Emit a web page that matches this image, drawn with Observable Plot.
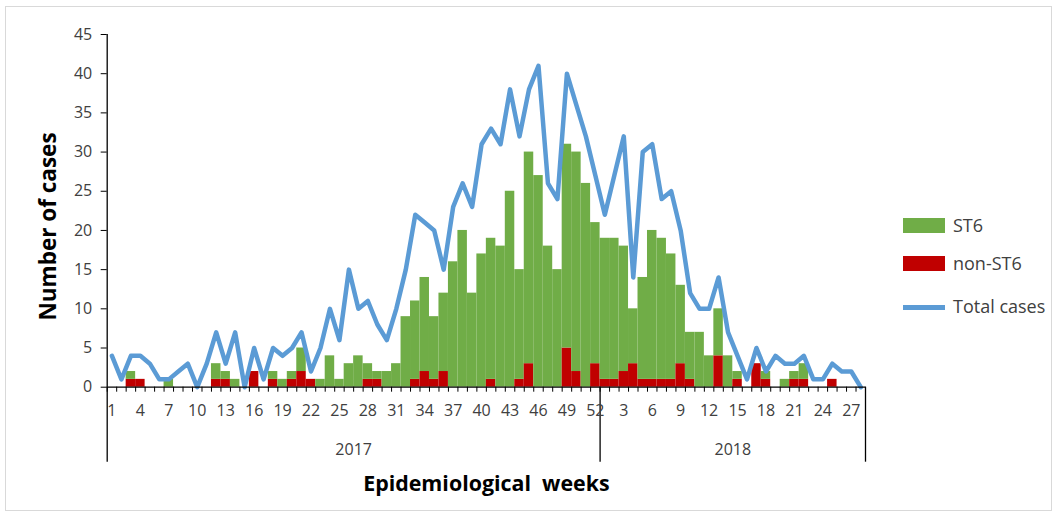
<!DOCTYPE html>
<html>
<head>
<meta charset="utf-8">
<script src="https://cdn.jsdelivr.net/npm/d3@7"></script>
<script src="https://cdn.jsdelivr.net/npm/@observablehq/plot@0.6"></script>
<style>
  html, body { margin: 0; padding: 0; background: #fff; }
  #wrap { position: relative; width: 1059px; height: 518px; font-family: "Open Sans", Lato, sans-serif; }
  #frame { position: absolute; left: 5px; top: 6px; width: 1047px; height: 505px; border: 1px solid #d9d9d9; box-sizing: border-box; }
  #chart { position: absolute; left: 0; top: 0; }
  .leg { position: absolute; left: 903px; font-size: 18px; color: #404040; }
  .sw { position: absolute; width: 42px; height: 15px; }
  .lbl { position: absolute; left: 50px; white-space: nowrap; line-height: 20px; }
</style>
</head>
<body>
<div id="wrap">
  <div id="frame"></div>
  <div id="chart"></div>
  <div class="leg" style="top:216px"><div class="sw" style="top:2px;background:#70AD47"></div><div class="lbl" style="top:-1px">ST6</div></div>
  <div class="leg" style="top:254px"><div class="sw" style="top:2px;background:#C00000"></div><div class="lbl" style="top:-1px">non-ST6</div></div>
  <div class="leg" style="top:297px"><div class="sw" style="top:8px;height:4.5px;background:#5B9BD5"></div><div class="lbl" style="top:-1px">Total cases</div></div>
</div>
<script>
// Categories: epidemiological weeks
const weeks2017 = [1,2,3,4,5,6,7,8,9,10,11,12,13,14,15,16,17,18,19,20,21,22,23,24,25,26,27,28,29,30,31,32,33,34,35,36,37,38,39,40,41,42,43,44,45,46,47,48,49,50,51,52];
const weeks2018 = [1,2,3,4,5,6,7,8,9,10,11,12,13,14,15,16,17,18,19,20,21,22,23,24,25,26,27,28];
const years = ["2017", "2018"];

// Series values
const st6_2017 = [0,0,1,0,0,0,1,0,0,0, 0,2,1,1,0,0,0,1,1,1, 3,0,1,4,1,3,4,2,1,2, 3,9,10,12,8,10,16,20,12,17, 18,18,25,14,27,27,18,15,26,28, 26,18];
const st6_2018 = [18,18,16,7,13,19,18,16,10,6, 7,4,6,4,1,0,0,1,0,1, 1,2,0,0,0,0,0,0];
const non_2017 = [0,0,1,1,0,0,0,0,0,0, 0,1,1,0,0,2,0,1,0,1, 2,1,0,0,0,0,0,1,1,0, 0,0,1,2,1,2,0,0,0,0, 1,0,0,1,3,0,0,0,5,2, 0,3];
const non_2018 = [1,1,2,3,1,1,1,1,3,1, 0,0,4,0,1,0,3,1,0,0, 1,1,0,0,1,0,0,0];
const total_2017 = [4,1,4,4,3,1,1,2,3,0, 3,7,3,7,0,5,1,5,4,5, 7,2,5,10,6,15,10,11,8,6, 10,15,22,21,20,15,23,26,23,31, 33,31,38,32,38,41,26,24,40,36, 32,27];
const total_2018 = [22,27,32,14,30,31,24,25,20,12, 10,10,14,7,4,1,5,2,4,3, 3,4,1,1,3,2,2,0];
const yTicks = [0,5,10,15,20,25,30,35,40,45];

// Build tables
const weeks = [...weeks2017.map(w => ({year: years[0], week: w})), ...weeks2018.map(w => ({year: years[1], week: w}))];
const st6 = [...st6_2017, ...st6_2018];
const non = [...non_2017, ...non_2018];
const total = [...total_2017, ...total_2018];

const bars = [];
weeks.forEach((w, i) => {
  bars.push({i, series: "non-ST6", value: non[i]});
  bars.push({i, series: "ST6", value: st6[i]});
});
const lineData = weeks.map((w, i) => ({i, value: total[i]}));
const n = weeks.length;
const boundaries = d3.range(0, n + 1);
const labelTicks = weeks.map((w, i) => i).filter(i => i % 3 === 0).map(i => i + 0.5);
const yearBounds = [0, weeks2017.length, n];
const yearLabels = [
  {x: weeks2017.length / 2, text: years[0]},
  {x: weeks2017.length + weeks2018.length / 2, text: years[1]}
];

const chart = Plot.plot({
  width: 1059,
  height: 518,
  marginLeft: 106.7,
  marginRight: 194,
  marginTop: 34,
  marginBottom: 131.3,
  style: {fontFamily: "'Open Sans', Lato, sans-serif", background: "transparent", overflow: "visible"},
  x: {domain: [0, n], axis: null},
  y: {domain: [0, 45], axis: null},
  color: {domain: ["ST6", "non-ST6"], range: ["#70AD47", "#C00000"]},
  marks: [
    Plot.rectY(bars, Plot.stackY({x1: d => d.i, x2: d => d.i + 1, y: "value", fill: "series"})),
    Plot.line(lineData, {x: d => d.i + 0.5, y: "value", stroke: "#5B9BD5", strokeWidth: 4.5, strokeLinejoin: "round", strokeLinecap: "round"}),
    Plot.ruleX([0], {y1: 0, y2: 45, stroke: "#000", strokeWidth: 1.3}),
    Plot.ruleY([0], {stroke: "#000", strokeWidth: 1.3}),
    Plot.axisY({ticks: yTicks, tickSize: 6, tickPadding: 9, fontSize: 16, color: "#404040", stroke: "#000", label: null}),
    Plot.axisX({ticks: boundaries, tickSize: 5, tickFormat: () => "", stroke: "#000", label: null}),
    Plot.axisX({ticks: yearBounds, tickSize: 75, tickFormat: () => "", stroke: "#000", strokeWidth: 1.3, label: null}),
    Plot.axisX({ticks: labelTicks, tickSize: 0, tickPadding: 17.5, fontSize: 16, color: "#404040",
      tickFormat: x => String(weeks[Math.floor(x)].week), label: null}),
    Plot.text(yearLabels, {x: "x", text: "text", frameAnchor: "bottom", dy: 62.3, fontSize: 16, fill: "#404040", lineAnchor: "middle"}),
    Plot.text(["Number of cases"], {frameAnchor: "left", textAnchor: "middle", rotate: -90, dx: -58.7, dy: 15.6, fontSize: 22.5, fontWeight: "bold", fill: "#000", lineAnchor: "middle"}),
    Plot.text(["Epidemiological  weeks"], {frameAnchor: "bottom", textAnchor: "middle", dy: 97, fontSize: 21.4, fontWeight: "bold", fill: "#000", lineAnchor: "middle"})
  ]
});
document.getElementById("chart").appendChild(chart);
</script>
</body>
</html>
